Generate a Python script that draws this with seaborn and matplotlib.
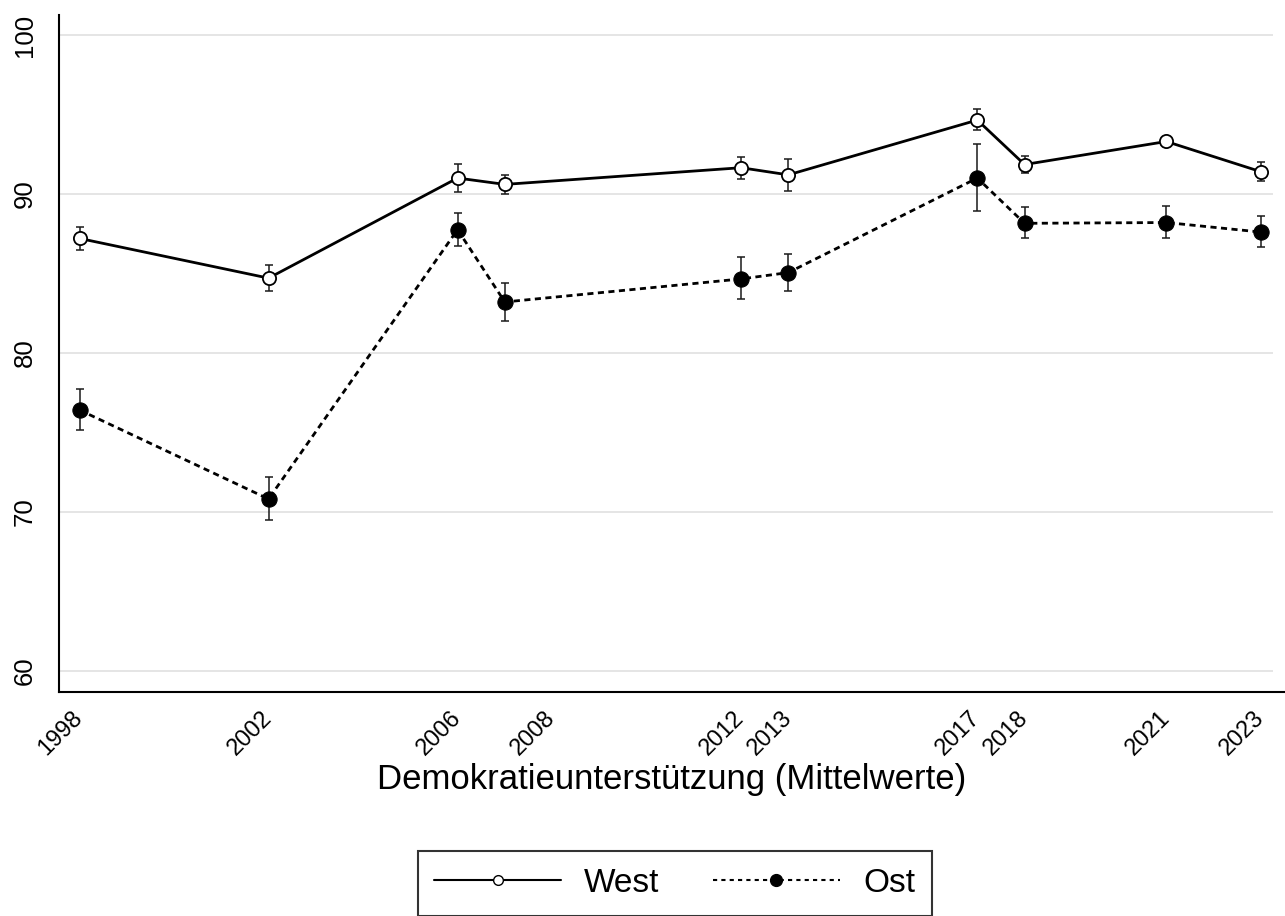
"""
Demokratieunterstützung West/Ost (Mittelwerte mit Konfidenzintervallen).
"""

import numpy as np
import pandas as pd
import matplotlib
matplotlib.use('Agg')
import matplotlib.pyplot as plt
from matplotlib.lines import Line2D
import seaborn as sns

# Daten
years = [1998, 2002, 2006, 2007, 2012, 2013, 2017, 2018, 2021, 2023]

west = [87.2, 84.7, 91.0, 90.6, 91.65, 91.2, 94.65, 91.85, 93.3, 91.4]
west_lo = [86.45, 83.9, 90.1, 90.0, 90.95, 90.2, 94.0, 91.3, 93.0, 90.8]
west_hi = [87.95, 85.5, 91.9, 91.2, 92.35, 92.2, 95.35, 92.4, 93.6, 92.0]

ost = [76.4, 70.8, 87.75, 83.2, 84.65, 85.05, 91.0, 88.15, 88.2, 87.6]
ost_lo = [75.15, 69.5, 86.7, 82.0, 83.4, 83.9, 88.95, 87.2, 87.25, 86.65]
ost_hi = [77.7, 72.2, 88.8, 84.4, 86.0, 86.2, 93.15, 89.15, 89.25, 88.6]

xtick_years = [1998, 2002, 2006, 2008, 2012, 2013, 2017, 2018, 2021, 2023]
ytick_values = [60, 70, 80, 90, 100]

df = pd.DataFrame({
    'jahr': years,
    'West': west, 'West_lo': west_lo, 'West_hi': west_hi,
    'Ost': ost, 'Ost_lo': ost_lo, 'Ost_hi': ost_hi,
})

sns.set_theme(style='white')
plt.rcParams['font.family'] = ['Liberation Sans', 'DejaVu Sans']
plt.rcParams['text.color'] = 'black'
plt.rcParams['axes.labelcolor'] = 'black'

fig = plt.figure(figsize=(12.85, 9.16), dpi=100)
ax = fig.add_axes([0.0461, 0.2445, 0.9531, 0.7391])

# Gitterlinien
ax.hlines(ytick_values, 1997.57, 2023.25, color='#e0e0e0', linewidth=1.2, zorder=0)

# Konfidenzintervalle
for name in ['West', 'Ost']:
    mid = df[name].to_numpy()
    err = np.vstack([mid - df[name + '_lo'].to_numpy(), df[name + '_hi'].to_numpy() - mid])
    ax.errorbar(df['jahr'], mid, yerr=err, fmt='none', ecolor='#1a1a1a',
                elinewidth=1.1, capsize=3, capthick=1.1, zorder=2)

# Linien
sns.lineplot(data=df, x='jahr', y='West', ax=ax, color='black', linewidth=2,
             marker='o', markersize=9.5, markerfacecolor='white',
             markeredgecolor='black', markeredgewidth=1.3, zorder=3)
sns.lineplot(data=df, x='jahr', y='Ost', ax=ax, color='black', linewidth=2,
             linestyle=(0, (2.2, 1.6)), marker='o', markersize=11,
             markerfacecolor='black', markeredgecolor='black', zorder=3)

ax.set_xlim(1997.57, 2023.49)
ax.set_ylim(58.65, 101.26)
ax.set_xticks(xtick_years)
ax.set_xticklabels([str(y) for y in xtick_years], rotation=45, ha='right',
                   va='center', rotation_mode='anchor')
ax.set_yticks(ytick_values)
ax.set_yticklabels([str(v) for v in ytick_values], rotation=90, va='center')

ax.tick_params(axis='both', direction='out', length=10, width=1.5,
               color='black', labelcolor='black')
ax.tick_params(axis='x', pad=6, labelsize=17)
ax.tick_params(axis='y', pad=6, labelsize=18.5)

for side in ['top', 'right']:
    ax.spines[side].set_visible(False)
for side in ['left', 'bottom']:
    ax.spines[side].set_color('black')
    ax.spines[side].set_linewidth(1.5)

ax.set_xlabel('Demokratieunterstützung (Mittelwerte)', fontsize=25, labelpad=2.5,
              color='black')
ax.set_ylabel('')

# Legende
handles = [
    Line2D([], [], color='black', linewidth=1.5, marker='o', markersize=7,
           markerfacecolor='white', markeredgecolor='black'),
    Line2D([], [], color='black', linewidth=1.5, linestyle=(0, (2, 2)),
           marker='o', markersize=8.5, markerfacecolor='black'),
]
leg = fig.legend(handles, ['West', 'Ost'], loc='center', bbox_to_anchor=(0.525, 0.0355),
                 ncol=2, frameon=True, fancybox=False, edgecolor='black',
                 fontsize=24, handlelength=3.8, handletextpad=0.7,
                 columnspacing=1.6, borderpad=0.5, numpoints=1)
leg.get_frame().set_linewidth(1.5)
for t in leg.get_texts():
    t.set_color('black')

fig.savefig('out.png', dpi=100)
plt.close(fig)
